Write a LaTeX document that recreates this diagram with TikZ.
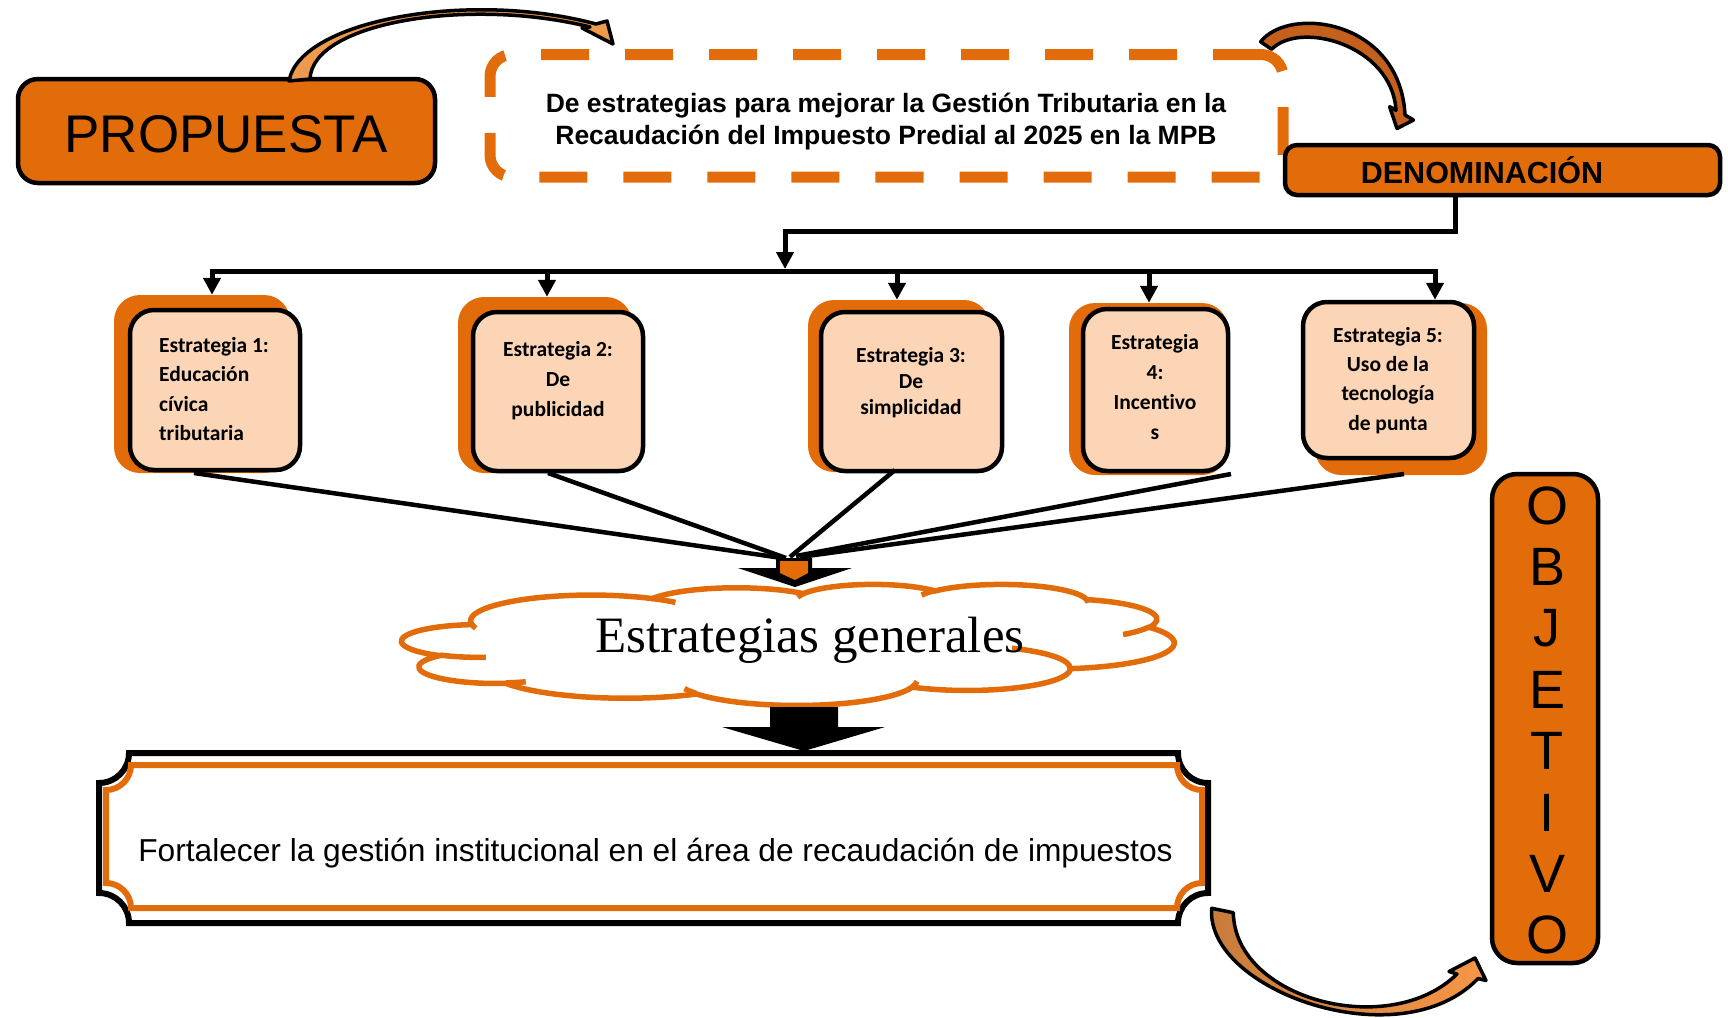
\documentclass[tikz,border=0pt]{standalone}
\usepackage{fontspec}
\setmainfont{Liberation Sans}
\newfontfamily\calib[Ligatures=NoCommon]{Carlito}
\newfontfamily\tnr{Liberation Serif}
\usetikzlibrary{arrows.meta}
\definecolor{orgA}{HTML}{E36C0A}
\definecolor{peach}{HTML}{FBD5B5}
\definecolor{arrA}{HTML}{EE9A4D}
\definecolor{arrB}{HTML}{C4601C}
\definecolor{arrCa}{HTML}{C67B3C}
\definecolor{arrCb}{HTML}{F79646}
\tikzset{
  declare function={
    ooa(\rx,\ry,\ang)=atan2(\rx*sin(\ang),\ry*cos(\ang));
    ood(\rx,\ry,\ang,\swp)=mod(atan2(\rx*sin(\ang+\swp),\ry*cos(\ang+\swp))-atan2(\rx*sin(\ang),\ry*cos(\ang))+720,360);
  },
  oa/.style n args={4}{insert path={arc[start angle={ooa(#1,#2,#3)},delta angle={ood(#1,#2,#3,#4)},x radius=#1pt,y radius=#2pt]}},
  titlebox/.style={draw=black,line width=4.5pt,fill=orgA,inner sep=0pt},
  frontbox/.style={draw=black,line width=4.5pt,fill=peach,rounded corners=24pt,inner sep=0pt},
  shadowbox/.style={fill=orgA,rounded corners=26pt,inner sep=0pt},
  kline/.style={draw=black,line width=5pt},
  convline/.style={draw=black,line width=4.5pt},
  arrowend/.style={-{Triangle[width=17pt,length=17pt]}},
  stxt/.style={font=\calib\bfseries\fontsize{21.5}{#1}\selectfont,align=center,anchor=base,inner sep=0pt},
  curvearrow/.style={draw=black,line width=3.5pt,line join=round},
  objl/.style={anchor=base,font=\fontsize{54}{60}\selectfont,inner sep=0pt},
}
\begin{document}
\begin{tikzpicture}[x=1pt,y=1pt,yscale=-1,line join=miter]
\useasboundingbox (0,0) rectangle (1728,1017);

% PROPUESTA
\node[titlebox,rounded corners=20pt,minimum width=417pt,minimum height=104pt] (prop) at (226.5,131) {};
\node[anchor=base,font=\fontsize{53}{60}\selectfont,inner sep=0pt] (propt) at (226,152) {PROPUESTA};

% dashed box
\node[draw=orgA,line width=11pt,dash pattern=on 48pt off 36pt,rounded corners=22pt,minimum width=793pt,minimum height=122.5pt,inner sep=0pt] (dbox) at (886.5,115.75) {};
\node[anchor=base,align=center,font=\bfseries\fontsize{26.5}{31.3}\selectfont,inner sep=0pt] (dtxt) at (886,144) {De estrategias para mejorar la Gestión Tributaria en la\\Recaudación del Impuesto Predial al 2025 en la MPB};

% DENOMINACION
\node[titlebox,rounded corners=12pt,minimum width=435pt,minimum height=50pt] (denom) at (1502.5,170) {};
\node[anchor=base,font=\bfseries\fontsize{30.5}{34}\selectfont,inner sep=0pt] (denomt) at (1482,183) {DENOMINACIÓN};

% connector to bus
\coordinate (j1) at (1455,231);
\coordinate (j2) at (785,231);
\coordinate (bm) at (785,269);
\draw[kline,arrowend] (denom.south -| j1) -- (j1) -- (j2) -- (bm);

% strategy boxes
\node[shadowbox,minimum width=176pt,minimum height=178pt] (sh1) at (202,384) {};
\node[shadowbox,minimum width=174pt,minimum height=176pt] (sh2) at (545,385) {};
\node[shadowbox,minimum width=182pt,minimum height=172pt] (sh3) at (899,386) {};
\node[shadowbox,minimum width=159pt,minimum height=172pt] (sh4) at (1148.5,389) {};
\node[shadowbox,minimum width=172pt,minimum height=172pt] (sh5) at (1401,389) {};
\node[frontbox,minimum width=170pt,minimum height=160pt] (fr1) at (215,390) {};
\node[frontbox,minimum width=170pt,minimum height=159pt] (fr2) at (558,391.5) {};
\node[frontbox,minimum width=181pt,minimum height=159pt] (fr3) at (911.5,391.5) {};
\node[frontbox,minimum width=145pt,minimum height=162pt] (fr4) at (1155.5,390) {};
\node[frontbox,minimum width=171pt,minimum height=156pt] (fr5) at (1388.5,380) {};

\node[stxt=29.5,align=left,anchor=base west] (t1) at (159,440.5) {Estrategia 1:\\Educación\\cívica\\tributaria};
\node[stxt=30] (t2) at (558,416) {Estrategia 2:\\De\\publicidad};
\node[stxt=26] (t3) at (911,414) {Estrategia 3:\\De\\simplicidad};
\node[stxt=30] (t4) at (1155,439) {Estrategia\\4:\\Incentivo\\s};
\node[stxt=29.4] (t5) at (1388,430.2) {Estrategia 5:\\Uso de la\\tecnología\\de punta};

% bus and drops
\coordinate (b1) at (212,271);
\coordinate (b2) at (547,271);
\coordinate (b3) at (897,271);
\coordinate (b4) at (1149,271);
\coordinate (b5) at (1435,271);
\draw[kline,line cap=rect] (b1) -- (b5);
\draw[kline,arrowend] (b1) -- (b1 |- sh1.north);
\draw[kline,arrowend] (b2) -- (b2 |- sh2.north);
\draw[kline,arrowend] (b3) -- (b3 |- sh3.north);
\draw[kline,arrowend] (b4) -- (b4 |- sh4.north);
\draw[kline,arrowend] (b5) -- (b5 |- fr5.north);

% converging lines
\coordinate (s1) at (194,473);
\coordinate (s2) at (548,473);
\coordinate (s3) at (895,470);
\coordinate (s4) at (1231,474);
\coordinate (s5) at (1404,474);
\coordinate (e1) at (782,558);
\coordinate (e2) at (786,558);
\coordinate (e3) at (790,557);
\coordinate (e4) at (796,556);
\coordinate (e5) at (800,557);
\foreach \i in {1,...,5} \draw[convline] (s\i) -- (e\i);

% small funnel arrow
\fill[black] (776,558) -- (812,558) -- (812,568) -- (852,568) -- (795,587) -- (738,568) -- (776,568) -- cycle;
\fill[orgA] (780,561) -- (808,561) -- (808,573) -- (795,580) -- (780,573) -- cycle;

% cloud (Word preset geometry)
\begin{scope}[shift={(402,584)},xscale=0.17870,yscale=0.028009,line width=5.5pt]
\draw[draw=orgA,fill=white] (390,1437)
  [oa={675.3}{919.0}{-190.4875}{123.7805}]
  [oa={533.3}{726.7}{-144.1024}{89.9452}]
  [oa={436.5}{594.5}{-145.8079}{99.7230}]
  [oa={485.7}{659.5}{-130.9861}{117.2417}]
  [oa={533.3}{727.3}{-78.7089}{109.0269}]
  [oa={677.5}{922.0}{-46.2673}{130.2690}]
  [oa={578.5}{786.7}{0.6250}{114.0333}]
  [oa={675.2}{921.5}{22.4516}{115.1726}]
  [oa={772.0}{1054.3}{66.2426}{75.7110}]
  [oa={436.0}{591.8}{-274.9421}{146.7356}]
  [oa={434.5}{594.5}{-246.8285}{152.5189}] -- cycle;
\draw[orgA] (469.3,2617.7) [oa={434.5}{594.5}{86.7420}{26.4295}];
\draw[orgA] (692.8,3489.9) [oa={436.0}{591.8}{73.6105}{11.4475}];
\draw[orgA] (1647.8,3909.0) [oa={675.2}{921.5}{137.6242}{14.0811}];
\draw[orgA] (2882.7,3475.1) [oa={675.2}{921.5}{6.4533}{15.9984}];
\draw[orgA] (3412.9,2295.4) [oa={578.5}{786.7}{-70.2924}{70.9174}];
\draw[orgA] (4179.8,1535.4) [oa={533.3}{727.3}{30.3180}{27.7515}];
\draw[orgA] (3832.4,542.6) [oa={485.7}{659.5}{-13.7443}{14.8589}];
\draw[orgA] (2907.8,395.2) [oa={485.7}{659.5}{-149.1815}{18.1954}];
\draw[orgA] (2214.1,472.0) [oa={436.5}{594.5}{-163.4943}{17.6864}];
\draw[orgA] (1400.0,519.2) [oa={675.3}{919.0}{-66.7070}{12.3194}];
\draw[orgA] (412.7,1578.9) [oa={675.3}{919.0}{157.6544}{11.8582}];
\end{scope}
\node[anchor=base,font=\tnr\fontsize{51}{56}\selectfont,inner sep=0pt] (cloudt) at (810,652) {Estrategias generales};

% big arrow
\fill[black] (770,707) -- (838,707) -- (838,727) -- (885,727) -- (804,751) -- (722,727) -- (770,727) -- cycle;

% banner
\draw[draw=black,line width=6pt,fill=white] (129,753) -- (1178,753) arc[start angle=180,end angle=90,radius=30pt] -- (1208,893) arc[start angle=270,end angle=180,radius=30pt] -- (129,923) arc[start angle=0,end angle=-90,radius=30pt] -- (99,783) arc[start angle=90,end angle=0,radius=30pt] -- cycle;
\draw[draw=orgA,line width=6pt] (131,765) -- (1177,765) arc[start angle=180,end angle=90,radius=25pt] -- (1202,883) arc[start angle=270,end angle=180,radius=25pt] -- (131,908) arc[start angle=0,end angle=-90,radius=25pt] -- (106,790) arc[start angle=90,end angle=0,radius=25pt] -- cycle;
\node[anchor=base,font=\fontsize{31.7}{36}\selectfont,inner sep=0pt] (btxt) at (655.5,861) {Fortalecer la gestión institucional en el área de recaudación de impuestos};

% OBJETIVO
\node[titlebox,rounded corners=25pt,minimum width=106pt,minimum height=489pt] (objbox) at (1545,718.5) {};
\foreach \l [count=\i from 0] in {O,B,J,E,T,I,V,O}
  \node[objl] (ob\i) at (1547,{524+61.4*\i}) {\l};

% curved arrows
\draw[curvearrow,fill=arrA] (289,81) .. controls (300,20) and (470,-10) .. (596,24) -- (607,21) -- (613,44) -- (582,28) -- (590,27) .. controls (470,-3) and (312,22) .. (310,79) -- cycle;
\draw[curvearrow,fill=arrB] (1260.6,41.7) .. controls (1290,5) and (1400,20) .. (1405,115) -- (1413.5,120) -- (1397,128.5) -- (1389.6,106.7) -- (1396,110.3) .. controls (1392,45) and (1300,20) .. (1271.6,49.3) -- cycle;
\draw[curvearrow,left color=arrCa,right color=arrCb] (1211.7,908.3) .. controls (1205,990) and (1400,1060) .. (1478,978.5) -- (1486,980.5) -- (1475,958) -- (1449,971.5) -- (1457,974) .. controls (1390,1040) and (1235,1000) .. (1233.3,912.7) -- cycle;
\end{tikzpicture}
\end{document}
